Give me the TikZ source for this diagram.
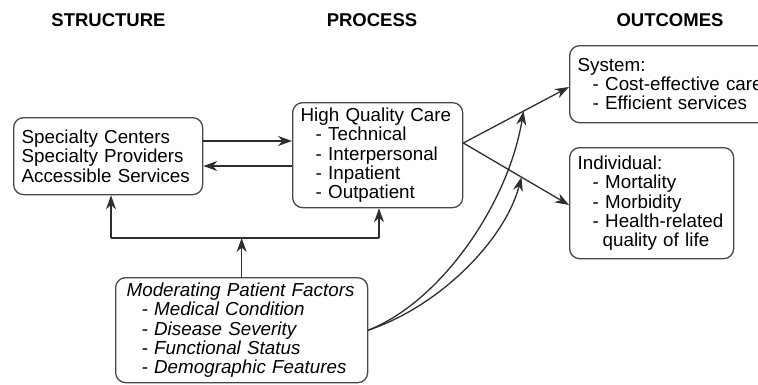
\documentclass[tikz,border=0pt]{standalone}
\usepackage{fontspec}
\setmainfont{Liberation Sans}
\usetikzlibrary{arrows.meta,calc}
\begin{document}
\begin{tikzpicture}[x=1pt,y=-1pt,
  line width=1.3pt,
  every node/.style={text=black},
  box/.style={draw=black!72, rounded corners=10pt, anchor=north west, align=left,
    inner xsep=8pt, inner ysep=0pt,
    font=\fontsize{18.8}{19.2}\selectfont},
  head/.style={font=\bfseries\fontsize{18.5}{20}\selectfont, inner sep=0pt},
  conn/.style={draw=black!82, -{Stealth[length=14pt,width=10pt,inset=4.5pt]}},
  plain/.style={draw=black!82}]
\useasboundingbox (0,0) rectangle (758,384);
\clip (0,0) rectangle (758,384);
\fill[white] (0,0) rectangle (758,384);
% headings
\node[head] (hs) at (108.5,20) {STRUCTURE};
\node[head] (hp) at (372,20) {PROCESS};
\node[head] (ho) at (670,20) {OUTCOMES};
% boxes
\node[box, minimum width=189pt, minimum height=77pt, text width=173pt] (S) at (13,117)
  {Specialty Centers\\Specialty Providers\\Accessible Services};
\node[box, minimum width=170pt, minimum height=105pt, text width=154pt] (P) at (292,102)
  {High Quality Care\\\hspace*{15pt}- Technical\\\hspace*{15pt}- Interpersonal\\\hspace*{15pt}- Inpatient\\\hspace*{15pt}- Outpatient};
\node[box, inner xsep=11pt, minimum width=252pt, minimum height=105pt, text width=230pt,
  font=\itshape\fontsize{18.8}{19.2}\selectfont] (M) at (115,277)
  {Moderating Patient Factors\\\hspace*{15pt}- Medical Condition\\\hspace*{15pt}- Disease Severity\\\hspace*{15pt}- Functional Status\\\hspace*{15pt}- Demographic Features};
\node[box, minimum width=221pt, minimum height=77pt, text width=205pt] (Sys) at (569,45)
  {System:\\\hspace*{15pt}- Cost-effective care\\\hspace*{15pt}- Efficient services};
\node[box, minimum width=164pt, minimum height=111pt, text width=148pt] (Ind) at (569,147)
  {Individual:\\\hspace*{15pt}- Mortality\\\hspace*{15pt}- Morbidity\\\hspace*{15pt}- Health-related\\\hspace*{25pt}quality of life};
% structure <-> process
\draw[conn] (S.east |- 0,141) -- (P.west |- 0,141);
\draw[conn] (P.west |- 0,166) -- (S.east |- 0,166);
% moderating factors to structure and process
\coordinate (jl) at (111,238);
\coordinate (jr) at (379,238);
\draw[plain] (jl) -- (jr);
\draw[conn] (jl) -- (jl |- S.south);
\draw[conn] (jr) -- (jr |- P.south);
\draw[conn] (M.north) -- (M.north |- jl);
% process to outcomes
\coordinate (po) at (P.east |- 0,143);
\coordinate (ts) at (Sys.west |- 0,87);
\coordinate (ti) at (Ind.west |- 0,205);
\draw[conn] (po) -- (ts);
\draw[conn] (po) -- (ti);
% moderating factors to outcome arrows
\coordinate (ms) at ($(po)!0.57!(ts)$);
\coordinate (mi) at ($(po)!0.55!(ti)$);
\draw[conn] (M.east) .. controls (440,302) and (508,205) .. (ms);
\draw[conn] (M.east) .. controls (440,306) and (505,240) .. (mi);
\end{tikzpicture}
\end{document}
